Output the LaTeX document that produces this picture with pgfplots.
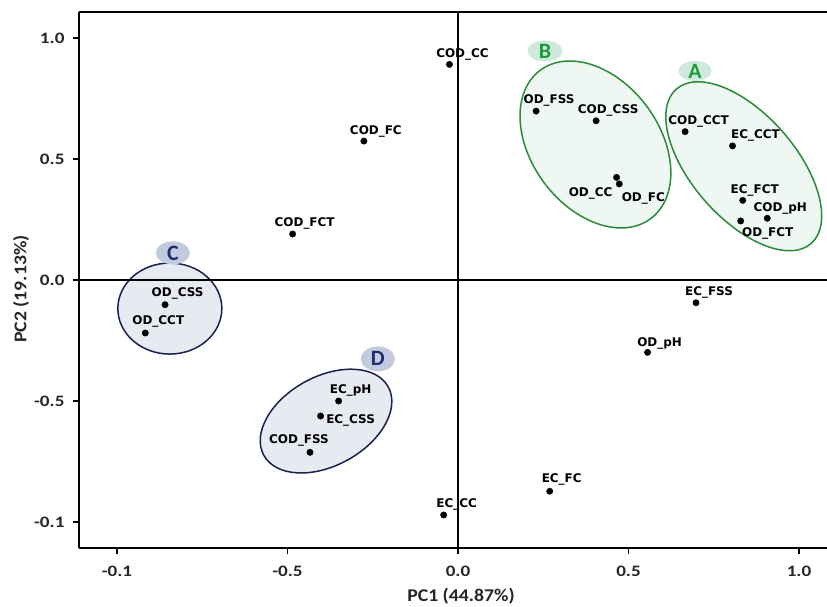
\documentclass[border=0pt]{standalone}
\usepackage{pgfplots}
\pgfplotsset{compat=1.18}
\usepackage{pgfplotstable}
\usepackage{fontspec}
\usetikzlibrary{shapes.geometric}
\newfontfamily\lblfont{DejaVu Sans}
\newfontfamily\tickfont{Carlito}[FakeStretch=1.2]
\newfontfamily\axfont{Carlito}[FakeStretch=1.1]
\newfontfamily\badgefont{Carlito}
\definecolor{gline}{HTML}{2A8A3A}
\definecolor{gfill}{HTML}{EEF7F2}
\definecolor{gbadge}{HTML}{CFE9DC}
\definecolor{gtext}{HTML}{1E9A3A}
\definecolor{bline}{HTML}{1A2050}
\definecolor{bfill}{HTML}{E8EAF2}
\definecolor{bbadge}{HTML}{C2CADE}
\definecolor{btext}{HTML}{1F2D6E}
\pgfplotstableread{
x y lab dx dy
-0.025 0.891 COD\_CC 13 12
-0.276 0.574 COD\_FC 12 11
-0.485 0.190 COD\_FCT 12 12
0.229 0.698 OD\_FSS 13 12
0.405 0.658 COD\_CSS 12 12
0.465 0.424 OD\_CC -26 -14
0.473 0.397 OD\_FC 24 -12.5
0.666 0.613 COD\_CCT 13.5 12
0.805 0.554 EC\_CCT 23 12
0.835 0.329 EC\_FCT 12 12
0.907 0.255 COD\_pH 13 11
0.829 0.244 OD\_FCT 27 -11
-0.859 -0.102 OD\_CSS 12.5 12.5
-0.917 -0.219 OD\_CCT 13 13
-0.350 -0.500 EC\_pH 12 12.5
-0.403 -0.562 EC\_CSS 30 -2.5
-0.434 -0.712 COD\_FSS -11 13
0.698 -0.094 EC\_FSS 13 12
0.556 -0.299 OD\_pH 12 11
0.269 -0.873 EC\_FC 12 13
-0.042 -0.971 EC\_CC 13 12.5
}\pts
\begin{document}
\begin{tikzpicture}
\begin{axis}[
  at={(79bp,59bp)}, anchor=south west,
  width=748bp, height=536bp, scale only axis,
  xmin=-1.1114, xmax=1.0821, ymin=-1.1074, ymax=1.1074,
  axis x line*=box, axis y line*=left,
  axis line style={line width=2bp, black},
  xtick={-1,-0.5,0,0.5,1}, xticklabels={-0.1,-0.5,0.0,0.5,1.0},
  ytick={-1,-0.5,0,0.5,1}, yticklabels={-0.1,-0.5,0.0,0.5,1.0},
  xtick pos=bottom, ytick pos=left,
  tick align=outside, major tick length=6bp,
  tick style={line width=1.5bp, black},
  /pgf/number format/assume math mode=true,
  ticklabel style={font=\tickfont\bfseries\fontsize{16}{18}\selectfont, text=black!85},
  xticklabel style={yshift=-9bp},
  yticklabel style={xshift=-5bp},
  xlabel={PC1 (44.87\%)}, ylabel={PC2 (19.13\%)},
  label style={font=\axfont\bfseries\fontsize{18}{20}\selectfont, text=black!85},
  xlabel style={at={(axis description cs:0.5107,-0.090)}, anchor=center},
  ylabel style={at={(axis description cs:-0.0775,0.4832)}, anchor=center},
  clip=false,
]
% group ellipses
\node[draw=gline, fill=gfill, line width=1.5bp, ellipse, inner sep=0pt,
  minimum width=185bp, minimum height=128bp, rotate=-53.3] at (axis cs:0.403,0.560) {};
\node[draw=gline, fill=gfill, line width=1.5bp, ellipse, inner sep=0pt,
  minimum width=205bp, minimum height=104bp, rotate=-48.9] at (axis cs:0.838,0.470) {};
\node[draw=bline, fill=bfill, line width=1.5bp, ellipse, inner sep=0pt,
  minimum width=104bp, minimum height=91bp] at (axis cs:-0.845,-0.118) {};
\node[draw=bline, fill=bfill, line width=1.5bp, ellipse, inner sep=0pt,
  minimum width=142bp, minimum height=89bp, rotate=28.8] at (axis cs:-0.387,-0.583) {};
% badges
\node[fill=gbadge, ellipse, inner sep=0pt, minimum width=33bp, minimum height=20bp,
  text=gtext, font=\badgefont\bfseries\fontsize{22}{22}\selectfont] at (axis cs:0.695,0.864) {A};
\node[fill=gbadge, ellipse, inner sep=0pt, minimum width=35bp, minimum height=21bp,
  text=gtext, font=\badgefont\bfseries\fontsize{22}{22}\selectfont] at (axis cs:0.255,0.946) {B};
\node[fill=bbadge, ellipse, inner sep=0pt, minimum width=34bp, minimum height=23bp,
  text=btext, font=\badgefont\bfseries\fontsize{22}{22}\selectfont] at (axis cs:-0.836,0.112) {C};
\node[fill=bbadge, ellipse, inner sep=0pt, minimum width=34bp, minimum height=25bp,
  text=btext, font=\badgefont\bfseries\fontsize{22}{22}\selectfont] at (axis cs:-0.235,-0.326) {D};
% center lines
\draw[line width=2bp, black] (axis cs:0,-1.1074) -- (axis cs:0,1.1074);
\draw[line width=2bp, black] (axis cs:-1.1114,0) -- (axis cs:1.0821,0);
% points
\addplot[only marks, mark=*, mark size=3.2bp, black,
  point meta=explicit symbolic,
  visualization depends on={\thisrow{dx}\as\dx},
  visualization depends on={\thisrow{dy}\as\dy},
  nodes near coords,
  nodes near coords style={font=\lblfont\bfseries\fontsize{12}{12}\selectfont, text=black,
    anchor=center, inner sep=0pt, text height=9.3bp, text depth=0pt,
    xshift=\dx bp, yshift=\dy bp}]
  table[x=x, y=y, meta=lab] {\pts};
\end{axis}
\pgfresetboundingbox
\path[use as bounding box] (0,0) rectangle (827bp,607bp);
\end{tikzpicture}
\end{document}
